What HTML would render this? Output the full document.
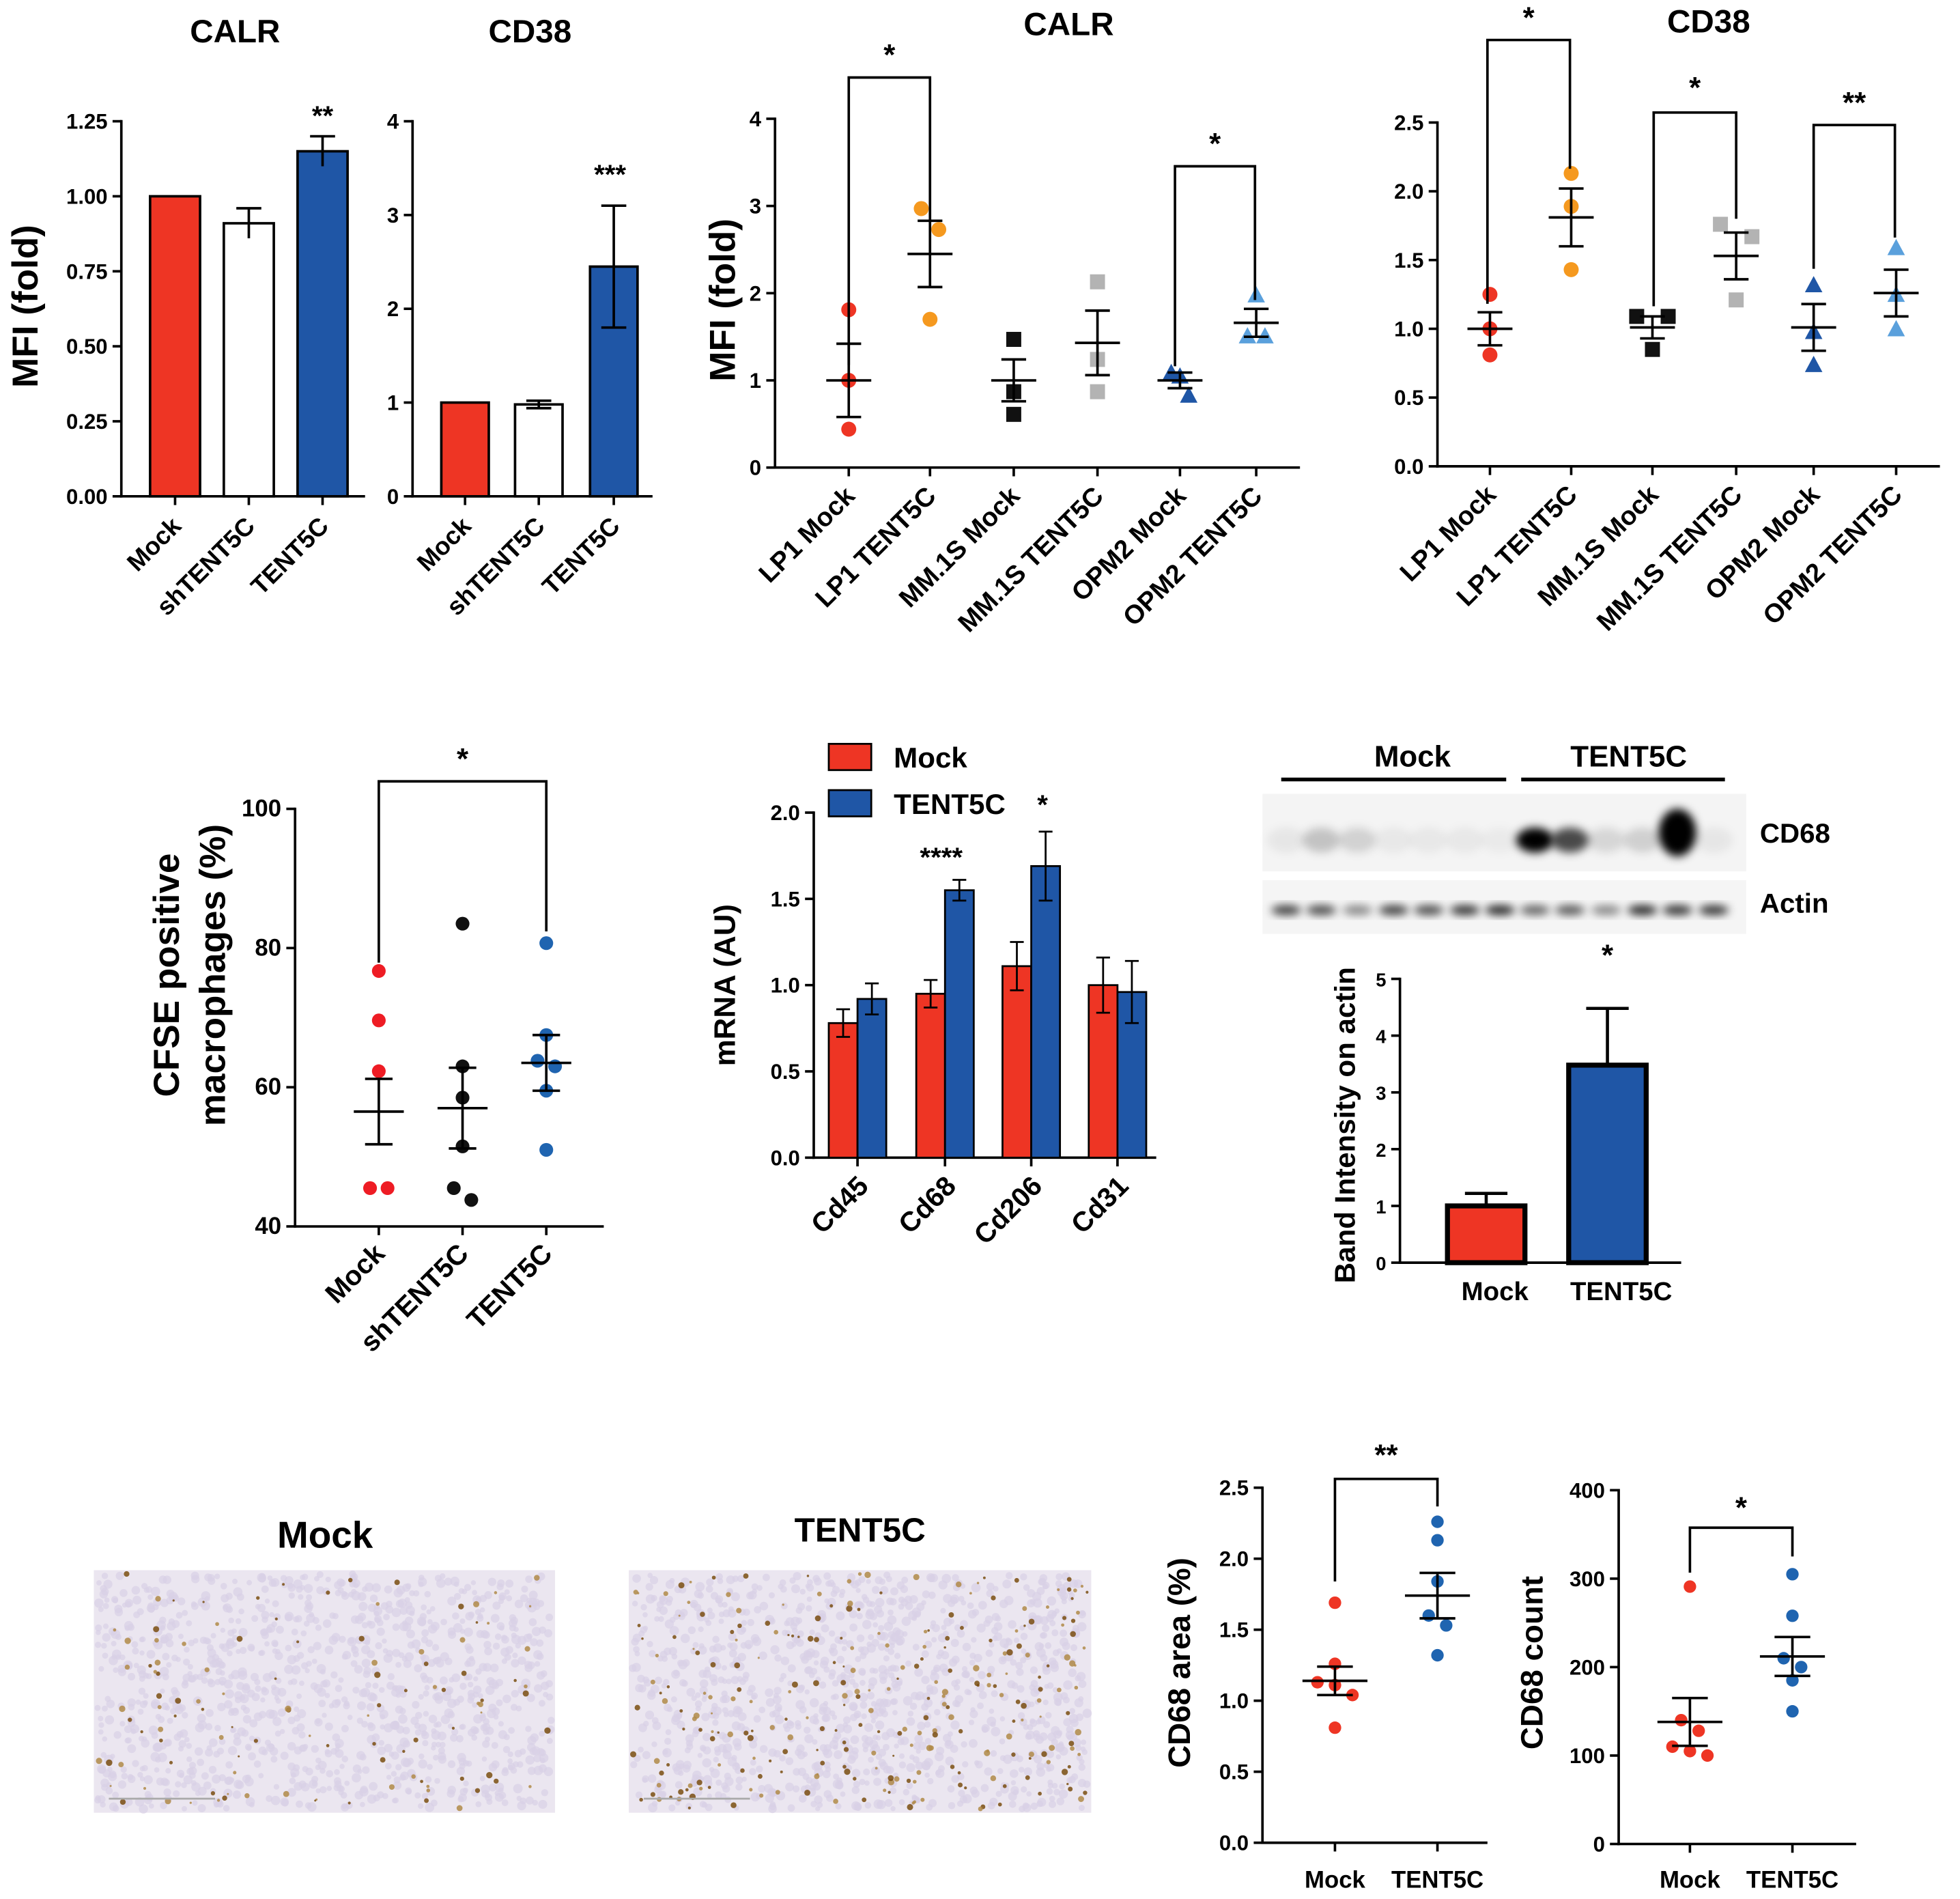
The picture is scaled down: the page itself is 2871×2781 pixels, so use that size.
<!DOCTYPE html>
<html><head><meta charset="utf-8"><style>
html,body{margin:0;padding:0;background:#fff;}
svg{display:block;font-family:"Liberation Sans",Arial,sans-serif;font-weight:bold;}
</style></head><body>
<svg id="fig" width="2871" height="2781" viewBox="0 0 1568 1519" xmlns="http://www.w3.org/2000/svg"></svg>
<script>
// ---- Data ----
const barCats = ["Mock","shTENT5C","TENT5C"];
const calrBarVals = [1.0, 0.91, 1.15];
const calrBarErr = [0, 0.05, 0.05];
const cd38BarVals = [1.0, 0.98, 2.45];
const cd38BarErr = [0, 0.04, 0.65];
const lineCats = ["LP1 Mock","LP1 TENT5C","MM.1S Mock","MM.1S TENT5C","OPM2 Mock","OPM2 TENT5C"];
const calrDots = [[1.81,1.0,0.44],[2.97,2.73,1.7],[1.47,0.87,0.61],[2.13,1.24,0.87],[1.09,1.05,0.83],[1.98,1.51,1.51]];
const calrMean = [1.0,2.45,1.0,1.43,1.0,1.66];
const calrSem = [0.42,0.38,0.24,0.37,0.09,0.16];
const cd38Dots = [[1.25,1.0,0.81],[2.13,1.89,1.43],[1.09,1.09,0.85],[1.76,1.67,1.21],[1.32,0.98,0.74],[1.59,1.25,1.0]];
const cd38Mean = [1.0,1.81,1.01,1.53,1.01,1.26];
const cd38Sem = [0.12,0.21,0.08,0.17,0.17,0.17];
const cfseDots = [[76.7,69.6,62.3,45.5,45.5],[83.5,63,58.5,51.5,45.5,43.8],[80.7,67.5,63.8,63,59.5,51]];
const cfseMean = [56.5,57,63.5];
const cfseSem = [4.7,5.8,4.0];
const mrnaCats = ["Cd45","Cd68","Cd206","Cd31"];
const mrnaMock = [0.78,0.95,1.11,1.0];
const mrnaMockErr = [0.08,0.08,0.14,0.16];
const mrnaTent = [0.92,1.55,1.69,0.96];
const mrnaTentErr = [0.09,0.06,0.2,0.18];
const bandCats = ["Mock","TENT5C"];
const bandVals = [1.0,3.48];
const bandErr = [0.22,1.0];
const areaDots = [[1.69,1.26,1.13,1.11,1.04,0.81],[2.26,2.13,1.84,1.6,1.53,1.32]];
const areaMean = [1.14,1.74];
const areaSem = [0.1,0.16];
const countDots = [[291,140,128,110,105,100],[305,258,210,200,185,150]];
const countMean = [138,212];
const countSem = [27,22];

const svg = document.getElementById('fig');
const NS = "http://www.w3.org/2000/svg";
function el(tag, attrs, parent, text){
  const e = document.createElementNS(NS, tag);
  for (const k in attrs) e.setAttribute(k, attrs[k]);
  if (text !== undefined) e.textContent = text;
  (parent||svg).appendChild(e);
  return e;
}
function group(name){
  const g = el('g', {});
  
  
  return g;
}
function txt(g, x, y, s, size, anchor, name, rot){
  const t = el('text', {x:x, y:y, 'font-size':size, 'text-anchor':anchor||'middle', fill:'#000'}, g, s);
  if (rot !== undefined) t.setAttribute('transform', `rotate(${rot} ${x} ${y})`);
  
  
  return t;
}
function line(g,x1,y1,x2,y2,w){ return el('line',{x1,y1,x2,y2,stroke:'#000','stroke-width':w||2},g); }
function yAxis(g, x, y0, y1, vmax, ticks, fmt, size){
  const sc = v => y0 - (y0-y1)*v/vmax;
  line(g,x,y0+1,x,y1-1,2);
  ticks.forEach(t=>{ line(g,x-7,sc(t),x,sc(t),2);
    txt(g,x-11,sc(t)+6,fmt(t),size||17,'end','y-tick-label'); });
  return sc;
}
function rotLabels(g, xs, y, labels, size){
  labels.forEach((l,i)=>{ txt(g, xs[i]+6, y, l, size||21, 'end', 'x-tick-label', -45); });
}
function marker(g, shape, x, y, color, r){
  r = r||6;
  let m;
  if (shape==='circle') m = el('circle',{cx:x,cy:y,r:r,fill:color},g);
  else if (shape==='square') m = el('rect',{x:x-r,y:y-r,width:2*r,height:2*r,fill:color},g);
  else m = el('polygon',{points:`${x},${y-r-1} ${x-r-1},${y+r} ${x+r+1},${y+r}`,fill:color},g);
  
  
}
function meanSem(g, x, sc, mean, sem, hw){
  hw = hw||18;
  line(g,x-hw,sc(mean),x+hw,sc(mean),2);
  line(g,x,sc(mean-sem),x,sc(mean+sem),2);
  line(g,x-hw*0.55,sc(mean-sem),x+hw*0.55,sc(mean-sem),2);
  line(g,x-hw*0.55,sc(mean+sem),x+hw*0.55,sc(mean+sem),2);
}
function bracket(g, x1, x2, y, d1, d2, star, sy){
  el('polyline',{points:`${x1},${d1} ${x1},${y} ${x2},${y} ${x2},${d2}`,fill:'none',stroke:'#000','stroke-width':2},g);
  txt(g,(x1+x2)/2,sy,star,24,'middle','significance-label');
}
// spreads points horizontally only when values are close
function spread(arr, j, step){
  let n=0, k=0;
  arr.forEach((v,i)=>{ if (Math.abs(v-arr[j]) < step){ n++; if(i<j) k++; } });
  return n<=1 ? 0 : (k-(n-1)/2)*14;
}

// ---- Panel A: CALR bars ----
(function(){
  const g = group('calr-bar-chart');
  txt(g,188,34,'CALR',26,'middle','chart-title');
  txt(g,30,245,'MFI (fold)',29,'middle','y-axis-title',-90);
  const sc = yAxis(g,97,397,97,1.25,[0,0.25,0.5,0.75,1,1.25],v=>v.toFixed(2),17);
  const xs=[140,199,258], cols=['#ee3524','#ffffff','#1f56a6'];
  line(g,96,397,292,397,2);
  calrBarVals.forEach((v,i)=>{
    const b = el('rect',{x:xs[i]-20,y:sc(v),width:40,height:397-sc(v),fill:cols[i],stroke:'#000','stroke-width':2},g);
    
    
    if (calrBarErr[i]>0){ line(g,xs[i],sc(v-calrBarErr[i]),xs[i],sc(v+calrBarErr[i])); line(g,xs[i]-10,sc(v+calrBarErr[i]),xs[i]+10,sc(v+calrBarErr[i])); }
  });
  txt(g,258,100,'**',22,'middle','significance-label');
  xs.forEach(x=>line(g,x,397,x,404));
  rotLabels(g,xs,422,barCats,20);
})();

// ---- Panel B: CD38 bars ----
(function(){
  const g = group('cd38-bar-chart');
  txt(g,424,34,'CD38',26,'middle','chart-title');
  const sc = yAxis(g,330,397,97,4,[0,1,2,3,4],v=>String(v),17);
  const xs=[372,431,491], cols=['#ee3524','#ffffff','#1f56a6'];
  line(g,329,397,522,397,2);
  cd38BarVals.forEach((v,i)=>{
    const b = el('rect',{x:xs[i]-19,y:sc(v),width:38,height:397-sc(v),fill:cols[i],stroke:'#000','stroke-width':2},g);
    
    
    if (cd38BarErr[i]>0){ line(g,xs[i],sc(v-cd38BarErr[i]),xs[i],sc(v+cd38BarErr[i])); line(g,xs[i]-10,sc(v+cd38BarErr[i]),xs[i]+10,sc(v+cd38BarErr[i])); line(g,xs[i]-10,sc(v-cd38BarErr[i]),xs[i]+10,sc(v-cd38BarErr[i])); }
  });
  txt(g,488,147,'***',22,'middle','significance-label');
  xs.forEach(x=>line(g,x,397,x,404));
  rotLabels(g,xs,422,barCats,20);
})();

const lineColors=['#ee3524','#f5991f','#111111','#b3b3b3','#1f56a6','#5aa0dc'];
const lineShapes=['circle','circle','square','square','tri','tri'];

// ---- Panel C: CALR dot plot ----
(function(){
  const g = group('calr-dot-plot');
  txt(g,855,28,'CALR',26,'middle','chart-title');
  txt(g,588,240,'MFI (fold)',29,'middle','y-axis-title',-90);
  const sc = yAxis(g,620,374,95,4,[0,1,2,3,4],v=>String(v),17);
  const xs=[679,744,811,878,944,1005];
  line(g,619,374,1040,374,2);
  xs.forEach(x=>line(g,x,374,x,381));
  calrDots.forEach((arr,i)=>{ arr.forEach((v,j)=>marker(g,lineShapes[i],xs[i]+spread(arr,j,0.25),sc(v),lineColors[i],6)); meanSem(g,xs[i],sc,calrMean[i],calrSem[i]); });
  bracket(g,679,744,62,292,176,'*',52);
  bracket(g,940,1004,133,293,240,'*',123);
  rotLabels(g,xs,398,lineCats,21);
})();

// ---- Panel D: CD38 dot plot ----
(function(){
  const g = group('cd38-dot-plot');
  txt(g,1367,26,'CD38',26,'middle','chart-title');
  const sc = yAxis(g,1150,373,98,2.5,[0,0.5,1,1.5,2,2.5],v=>v.toFixed(1),17);
  const xs=[1192,1257,1322,1389,1451,1517];
  line(g,1149,373,1552,373,2);
  xs.forEach(x=>line(g,x,373,x,380));
  cd38Dots.forEach((arr,i)=>{ arr.forEach((v,j)=>marker(g,lineShapes[i],xs[i]+spread(arr,j,0.15)*1.8,sc(v),lineColors[i],6)); meanSem(g,xs[i],sc,cd38Mean[i],cd38Sem[i]); });
  bracket(g,1190,1256,32,243,135,'*',22);
  bracket(g,1323,1389,90,245,175,'*',78);
  bracket(g,1451,1516,100,215,190,'**',90);
  rotLabels(g,xs,397,lineCats,21);
})();

// ---- Panel E: CFSE ----
(function(){
  const g = group('cfse-dot-plot');
  txt(g,143,780,'CFSE positive',29,'middle','y-axis-title',-90);
  txt(g,180,780,'macrophages (%)',29,'middle','y-axis-title',-90);
  const sc0 = yAxis(g,236,981,647,60,[0,20,40,60],v=>String(v+40),19);
  const sc = v => sc0(v-40);
  const xs=[303,370,437], cols=['#ee1c24','#111111','#1f64b0'];
  line(g,235,981,483,981,2);
  xs.forEach(x=>line(g,x,981,x,988));
  cfseDots.forEach((arr,i)=>{ arr.forEach((v,j)=>marker(g,'circle',xs[i]+spread(arr,j,3),sc(v),cols[i],5.5)); meanSem(g,xs[i],sc,cfseMean[i],cfseSem[i],20); });
  bracket(g,303,437,625,770,745,'*',615);
  rotLabels(g,xs,1004,barCats,22);
})();

// ---- Panel F: mRNA ----
(function(){
  const g = group('mrna-bar-chart');
  txt(g,588,788,'mRNA (AU)',24,'middle','y-axis-title',-90);
  const sc = yAxis(g,651,926,650,2,[0,0.5,1,1.5,2],v=>v.toFixed(1),17);
  const centers=[686,756,825,894];
  line(g,650,926,925,926,2);
  mrnaCats.forEach((c,i)=>{
    [[mrnaMock,mrnaMockErr,'#ee3524',-23],[mrnaTent,mrnaTentErr,'#1f56a6',0]].forEach(([vals,errs,col,off])=>{
      const v=vals[i], e=errs[i], x=centers[i]+off;
      const b=el('rect',{x:x,y:sc(v),width:23,height:926-sc(v),fill:col,stroke:'#000','stroke-width':1.5},g);
      
      
      line(g,x+11.5,sc(v-e),x+11.5,sc(v+e),1.5);
      line(g,x+6,sc(v+e),x+17,sc(v+e),1.5);
      line(g,x+6,sc(v-e),x+17,sc(v-e),1.5);
    });
    line(g,centers[i],926,centers[i],933);
  });
  txt(g,753,693,'****',22,'middle','significance-label');
  txt(g,834,651,'*',22,'middle','significance-label');
  rotLabels(g,centers.map(c=>c+4),950,mrnaCats,22);
  const l = group('legend');
  el('rect',{x:663,y:595,width:34,height:21,fill:'#ee3524',stroke:'#000','stroke-width':1.5},l);
  txt(l,715,614,'Mock',23,'start','legend-entry-mock');
  el('rect',{x:663,y:632,width:34,height:21,fill:'#1f56a6',stroke:'#000','stroke-width':1.5},l);
  txt(l,715,651,'TENT5C',23,'start','legend-entry-tent5c');
})();

// ---- Panel G: Western blot ----
(function(){
  const g = group('western-blot');
  const defs = el('defs',{},g);
  const f = el('filter',{id:'blur',x:'-50%',y:'-50%',width:'200%',height:'200%'},defs);
  el('feGaussianBlur',{stdDeviation:'3.5'},f);
  txt(g,1130,613,'Mock',24,'middle','group-label-mock');
  txt(g,1303,613,'TENT5C',24,'middle','group-label-tent5c');
  el('rect',{x:1025,y:622,width:180,height:3,fill:'#000'},g);
  el('rect',{x:1217,y:622,width:163,height:3,fill:'#000'},g);
  el('rect',{x:1010,y:635,width:387,height:62,fill:'#f4f4f4'},g);
  el('rect',{x:1010,y:704,width:387,height:43,fill:'#f5f5f5'},g);
  const lanes=[1025,1053,1082,1111,1139,1168,1196,1224,1252,1281,1310,1338,1367];
  const cd68Int=[0.06,0.2,0.14,0.05,0.05,0.05,0.04,1.0,0.7,0.12,0.15,1.0,0.06];
  const actinInt=[0.75,0.7,0.45,0.75,0.7,0.8,0.85,0.6,0.65,0.45,0.85,0.8,0.8];
  lanes.forEach((x,i)=>{
    const a=cd68Int[i];
    el('ellipse',{cx:x+4,cy:i==11?666:672,rx:15,ry:i==11?19:10,fill:'#000','fill-opacity':a,filter:'url(#blur)'},g);
    el('ellipse',{cx:x+4,cy:728,rx:12,ry:4,fill:'#000','fill-opacity':actinInt[i],filter:'url(#blur)'},g);
  });
  txt(g,1408,674,'CD68',22,'start','blot-label-cd68');
  txt(g,1408,730,'Actin',22,'start','blot-label-actin');
})();

// ---- Panel H: Band intensity ----
(function(){
  const g = group('band-intensity-chart');
  txt(g,1084,900,'Band Intensity on actin',23,'middle','y-axis-title',-90);
  const sc = yAxis(g,1120,1010,783,5,[0,1,2,3,4,5],v=>String(v),15);
  const xs=[1189,1286], cols=['#ee3524','#1f56a6'];
  line(g,1119,1010,1345,1010,2);
  bandVals.forEach((v,i)=>{
    const b=el('rect',{x:xs[i]-31,y:sc(v),width:62,height:1010-sc(v),fill:cols[i],stroke:'#000','stroke-width':4},g);
    
    
    line(g,xs[i],sc(v),xs[i],sc(v+bandErr[i]),2.5);
    line(g,xs[i]-17,sc(v+bandErr[i]),xs[i]+17,sc(v+bandErr[i]),2.5);
  });
  txt(g,1286,772,'*',24,'middle','significance-label');
  txt(g,1196,1040,'Mock',21,'middle','x-tick-label');
  txt(g,1297,1040,'TENT5C',21,'middle','x-tick-label');
})();

// ---- Histology images (decorative texture) ----
function histo(x0,y0,w,h,name,density,seed){
  const g = group(name);
  el('rect',{x:x0,y:y0,width:w,height:h,fill:'#ebe6f0'},g);
  let s=seed;
  const rnd=()=>{ s=(s*9301+49297)%233280; return s/233280; };
  for(let i=0;i<1100;i++) el('circle',{cx:x0+3+rnd()*(w-6),cy:y0+3+rnd()*(h-6),r:2+rnd()*1.8,fill:'#d8d0e6','fill-opacity':0.7},g);
  for(let i=0;i<density;i++) el('circle',{cx:x0+3+rnd()*(w-6),cy:y0+3+rnd()*(h-6),r:0.8+rnd()*1.8,fill:rnd()<0.5?'#7a4e10':'#b08a48','fill-opacity':0.85},g);
  el('rect',{x:x0+12,y:y0+h-12,width:85,height:1.5,fill:'#aaa'},g);
}
txt(svg,260,1238,'Mock',30,'middle','image-title-mock');
txt(svg,688,1233,'TENT5C',27,'middle','image-title-tent5c');
histo(75,1256,369,194,'histology-mock',110,17);
histo(503,1256,370,194,'histology-tent5c',260,91);

// ---- Panel I: CD68 area ----
(function(){
  const g = group('cd68-area-plot');
  txt(g,952,1330,'CD68 area (%)',25,'middle','y-axis-title',-90);
  const sc = yAxis(g,1010,1474,1190,2.5,[0,0.5,1,1.5,2,2.5],v=>v.toFixed(1),17);
  const xs=[1068,1150], cols=['#ee3524','#1f64b0'];
  line(g,1009,1474,1190,1474,2);
  xs.forEach(x=>line(g,x,1474,x,1481));
  areaDots.forEach((arr,i)=>{ arr.forEach((v,j)=>marker(g,'circle',xs[i]+spread(arr,j,0.1),sc(v),cols[i],5)); meanSem(g,xs[i],sc,areaMean[i],areaSem[i],26); });
  bracket(g,1068,1150,1183,1265,1205,'**',1172);
  txt(g,1068,1510,'Mock',19,'middle','x-tick-label');
  txt(g,1150,1510,'TENT5C',19,'middle','x-tick-label');
})();

// ---- Panel J: CD68 count ----
(function(){
  const g = group('cd68-count-plot');
  txt(g,1234,1330,'CD68 count',25,'middle','y-axis-title',-90);
  const sc = yAxis(g,1295,1475,1192,400,[0,100,200,300,400],v=>String(v),17);
  const xs=[1352,1434], cols=['#ee3524','#1f64b0'];
  line(g,1294,1475,1485,1475,2);
  xs.forEach(x=>line(g,x,1475,x,1482));
  countDots.forEach((arr,i)=>{ arr.forEach((v,j)=>marker(g,'circle',xs[i]+spread(arr,j,14),sc(v),cols[i],5)); meanSem(g,xs[i],sc,countMean[i],countSem[i],26); });
  bracket(g,1352,1434,1222,1258,1245,'*',1214);
  txt(g,1352,1510,'Mock',19,'middle','x-tick-label');
  txt(g,1434,1510,'TENT5C',19,'middle','x-tick-label');
})();
</script>
</body></html>
